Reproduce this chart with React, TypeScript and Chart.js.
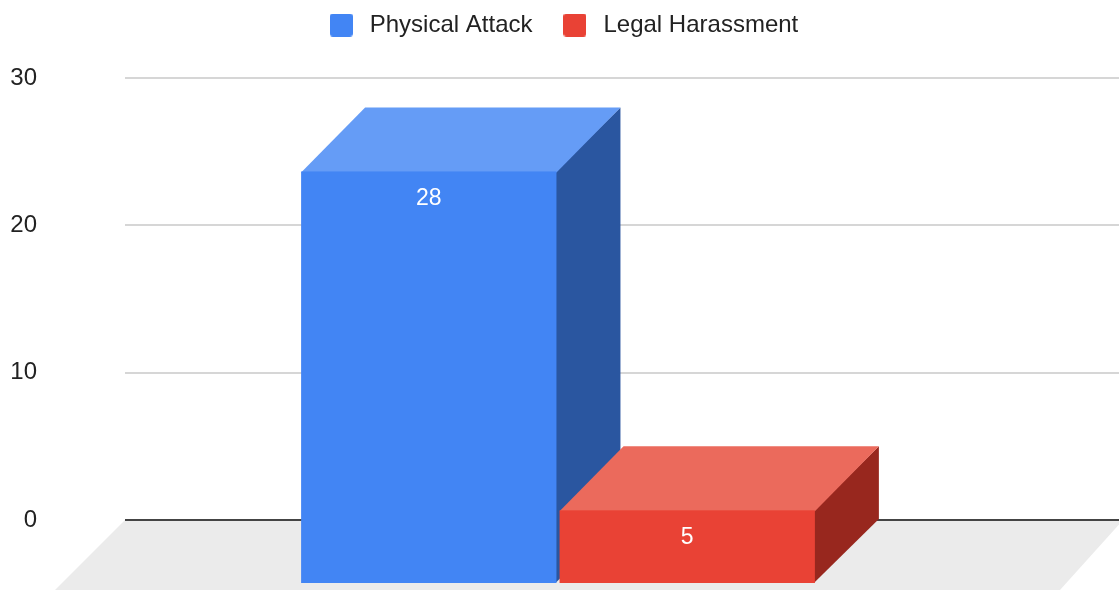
import React, { useEffect, useRef } from 'react';
import { Chart, registerables } from 'chart.js';

Chart.register(...registerables);

// ---- data ----
const categories = [''];
const seriesNames = ['Physical Attack', 'Legal Harassment'];
const physicalAttack = [28];
const legalHarassment = [5];
const yTicks = [0, 10, 20, 30];

// ---- styles ----
const FONT = '"Liberation Sans", Arial, Helvetica, sans-serif';
const faceColors = [
  { front: '#4285f4', top: '#659cf6', side: '#2a56a0' },
  { front: '#e94235', top: '#eb6a5c', side: '#98271e' },
];
const DEPTH = 64;

function poly(ctx: CanvasRenderingContext2D, pts: number[][], fill: string) {
  ctx.beginPath();
  ctx.moveTo(pts[0][0], pts[0][1]);
  for (let i = 1; i < pts.length; i++) ctx.lineTo(pts[i][0], pts[i][1]);
  ctx.closePath();
  ctx.fillStyle = fill;
  ctx.fill();
}

function makeLegendIcon(color: string) {
  const c = document.createElement('canvas');
  c.width = 23;
  c.height = 23;
  const g = c.getContext('2d')!;
  g.fillStyle = color;
  g.beginPath();
  if ((g as any).roundRect) (g as any).roundRect(0, 0, 23, 23, 3);
  else g.rect(0, 0, 23, 23);
  g.fill();
  return c;
}

const floorPlugin = {
  id: 'floor3d',
  beforeDraw(chart: any) {
    const { ctx, chartArea } = chart;
    const y0 = chart.scales.y.getPixelForValue(0);
    ctx.save();
    poly(
      ctx,
      [
        [chartArea.left, y0],
        [chartArea.right + 4, y0],
        [chartArea.right - 59, y0 + 70],
        [chartArea.left - 70, y0 + 70],
      ],
      '#ebebeb'
    );
    ctx.restore();
  },
};

const bars3dPlugin = {
  id: 'bars3d',
  beforeDatasetsDraw(chart: any) {
    const ctx: CanvasRenderingContext2D = chart.ctx;
    ctx.save();
    chart.data.datasets.forEach((ds: any, di: number) => {
      if (!chart.isDatasetVisible(di)) return;
      const meta = chart.getDatasetMeta(di);
      const c = faceColors[di];
      meta.data.forEach((el: any, i: number) => {
        const { x, y, base, width } = el.getProps(['x', 'y', 'base', 'width'], true);
        const xl = x - width / 2;
        const xr = x + width / 2;
        const d = DEPTH;
        // side face (extended 1px under the front face to avoid seams)
        poly(ctx, [[xr, y], [xr, base], [xr - d - 1, base + d], [xr - d - 1, y + d]], c.side);
        // top face (extended 1px under the front face)
        poly(ctx, [[xl, y], [xr, y], [xr - d, y + d + 1], [xl - d, y + d + 1]], c.top);
        // front face
        ctx.fillStyle = c.front;
        ctx.fillRect(xl - d, y + d, width, base - y);
        // value label
        ctx.fillStyle = '#ffffff';
        ctx.font = `23px ${FONT}`;
        ctx.textAlign = 'center';
        ctx.textBaseline = 'middle';
        ctx.fillText(String(ds.data[i]), x - d, y + d + 27);
      });
    });
    ctx.restore();
    return false;
  },
};

// legend occupies 78px; its items are drawn 13px higher than Chart.js would place them
const legendSpacePlugin = {
  id: 'legendSpace',
  beforeLayout(chart: any) {
    const lg = chart.legend;
    if (lg && !lg._patchedFit) {
      const origFit = lg.fit;
      lg.fit = function () {
        origFit.call(this);
        this.height = 78;
      };
      const origDraw = lg._draw;
      lg._draw = function () {
        const t = this.top;
        const l = this.left;
        const r = this.right;
        this.top = t - 13;
        this.left = l + 2;
        this.right = r + 2;
        origDraw.call(this);
        this.top = t;
        this.left = l;
        this.right = r;
      };
      lg._patchedFit = true;
    }
  },
};

export default function App() {
  const canvasRef = useRef<HTMLCanvasElement>(null);

  useEffect(() => {
    if (!canvasRef.current) return;
    const icons = faceColors.map((c) => makeLegendIcon(c.front));
    const chart = new Chart(canvasRef.current, {
      type: 'bar',
      data: {
        labels: categories,
        datasets: [
          {
            label: seriesNames[0],
            data: physicalAttack,
            backgroundColor: faceColors[0].front,
            borderWidth: 0,
            categoryPercentage: 0.52,
            barPercentage: 0.988,
          },
          {
            label: seriesNames[1],
            data: legalHarassment,
            backgroundColor: faceColors[1].front,
            borderWidth: 0,
            categoryPercentage: 0.52,
            barPercentage: 0.988,
          },
        ],
      },
      options: {
        responsive: true,
        maintainAspectRatio: false,
        animation: false,
        layout: { padding: { top: 0, left: 0, right: 0, bottom: 70 } },
        plugins: {
          legend: {
            position: 'top',
            labels: {
              usePointStyle: true,
              pointStyleWidth: 33,
              boxHeight: 23,
              padding: 26,
              color: '#222222',
              font: { size: 24, family: FONT },
              generateLabels: (ch: any) =>
                (Chart as any).defaults.plugins.legend.labels
                  .generateLabels(ch)
                  .map((it: any, i: number) => ({ ...it, pointStyle: icons[i], lineWidth: 0 })),
            },
          },
          tooltip: { enabled: false },
        },
        scales: {
          x: { display: false },
          y: {
            min: 0,
            max: 30,
            afterBuildTicks: (s: any) => {
              s.ticks = yTicks.map((v) => ({ value: v }));
            },
            afterFit: (s: any) => {
              s.width = 125;
              s.paddingTop = 0;
              s.paddingBottom = 0;
            },
            ticks: {
              padding: 88,
              color: '#222222',
              font: { size: 24, family: FONT },
            },
            grid: {
              drawTicks: false,
              color: (c: any) => (c.tick && c.tick.value === 0 ? '#444444' : '#d6d6d6'),
              lineWidth: 2,
            },
            border: { display: false },
          },
        },
      } as any,
      plugins: [floorPlugin, bars3dPlugin, legendSpacePlugin],
    });
    return () => chart.destroy();
  }, []);

  return (
    <div style={{ position: 'fixed', left: 0, top: 0, width: 1119, height: 590, background: '#ffffff' }}>
      <canvas ref={canvasRef} />
    </div>
  );
}
